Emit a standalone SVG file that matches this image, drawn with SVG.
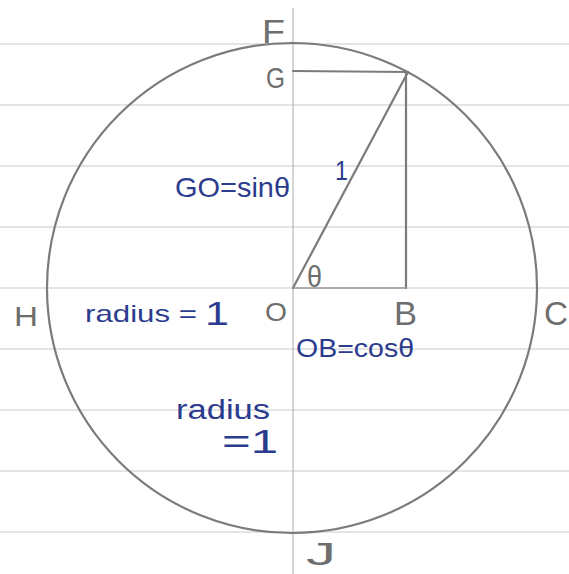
<svg xmlns="http://www.w3.org/2000/svg" width="569" height="574" viewBox="0 0 569 574">
<style>
.rule{stroke:#c9c9c9;stroke-width:1.2;fill:none}
.axis{stroke:#b3b3b3;stroke-width:1.1;fill:none}
.pencil{stroke:#7b7b7b;stroke-width:2.2;fill:none;stroke-linecap:round}
.glab{font-family:"Liberation Sans","DejaVu Sans",sans-serif;fill:#6e6e6e}
.blab{font-family:"Liberation Sans","DejaVu Sans",sans-serif;fill:#2b3c8f}
</style>
<rect x="0" y="0" width="569" height="574" fill="#ffffff"/>
<g id="paper">
<line class="rule" x1="0" y1="44" x2="569" y2="44"/>
<line class="rule" x1="0" y1="105" x2="569" y2="105"/>
<line class="rule" x1="0" y1="166" x2="569" y2="166"/>
<line class="rule" x1="0" y1="227" x2="569" y2="227"/>
<line class="rule" x1="0" y1="288" x2="569" y2="288"/>
<line class="rule" x1="0" y1="349" x2="569" y2="349"/>
<line class="rule" x1="0" y1="410" x2="569" y2="410"/>
<line class="rule" x1="0" y1="471" x2="569" y2="471"/>
<line class="rule" x1="0" y1="532" x2="569" y2="532"/>
<line class="axis" x1="293" y1="8" x2="293" y2="574"/>
</g>
<g id="circle">
<circle class="pencil" cx="292" cy="288" r="245"/>
</g>
<g id="connectors">
<line class="pencil" x1="293" y1="288" x2="408" y2="72"/>
<line class="pencil" x1="293" y1="71" x2="408" y2="72"/>
<line class="pencil" x1="406" y1="73" x2="406" y2="288"/>
<line class="pencil" x1="293" y1="288" x2="406" y2="288" style="stroke:#999;stroke-width:1.4"/>
</g>
<g id="node-F"><text class="glab" x="262" y="43" font-size="34" textLength="23" lengthAdjust="spacingAndGlyphs">F</text></g>
<g id="node-G"><text class="glab" x="266" y="88" font-size="30" textLength="19" lengthAdjust="spacingAndGlyphs">G</text></g>
<g id="node-H"><text class="glab" x="14" y="326" font-size="28" textLength="24" lengthAdjust="spacingAndGlyphs">H</text></g>
<g id="node-O"><text class="glab" x="265" y="321" font-size="25" textLength="22" lengthAdjust="spacingAndGlyphs">O</text></g>
<g id="node-B"><text class="glab" x="394" y="325" font-size="33" textLength="23" lengthAdjust="spacingAndGlyphs">B</text></g>
<g id="node-C"><text class="glab" x="544" y="325" font-size="34" textLength="24" lengthAdjust="spacingAndGlyphs">C</text></g>
<g id="node-J"><text class="glab" x="306" y="565" font-size="32" textLength="30" lengthAdjust="spacingAndGlyphs">J</text></g>
<g id="label-theta"><text class="glab" x="307" y="287" font-size="30" textLength="15" lengthAdjust="spacingAndGlyphs">θ</text></g>
<g id="label-one"><text class="blab" x="335" y="180" font-size="28" textLength="13" lengthAdjust="spacingAndGlyphs">1</text></g>
<g id="label-sin"><text class="blab" x="175" y="197" font-size="28" textLength="115" lengthAdjust="spacingAndGlyphs">GO=sinθ</text></g>
<g id="label-cos"><text class="blab" x="296" y="357" font-size="25" textLength="118" lengthAdjust="spacingAndGlyphs">OB=cosθ</text></g>
<g id="label-radius1"><text class="blab" x="85" y="322" font-size="24" textLength="112" lengthAdjust="spacingAndGlyphs">radius =</text><text class="blab" x="205" y="325" font-size="34" textLength="24" lengthAdjust="spacingAndGlyphs">1</text></g>
<g id="label-radius2"><text class="blab" x="176" y="419" font-size="27" textLength="94" lengthAdjust="spacingAndGlyphs">radius</text><text class="blab" x="222" y="453" font-size="34" textLength="56" lengthAdjust="spacingAndGlyphs">=1</text></g>
</svg>
